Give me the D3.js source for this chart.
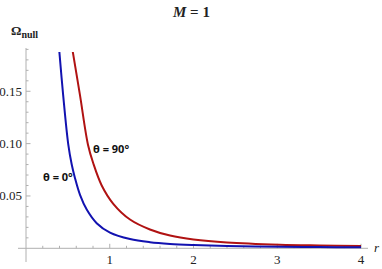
<!DOCTYPE html>
<html><head><meta charset="utf-8">
<script src="https://cdn.jsdelivr.net/npm/d3@7"></script>
<style>body{margin:0;background:#fff}svg{display:block}</style>
</head><body>
<script>
// Data
const rBlue = [0.398,0.444,0.505,0.546,0.585,0.645,0.725,0.844,1.003,1.242,1.48,1.72,2.0,2.4,3.03,3.5,4.0];
const omBlue = [0.188,0.146,0.099,0.080,0.067,0.051,0.037,0.024,0.015,0.0088,0.0058,0.0042,0.0032,0.0023,0.0015,0.0012,0.0010];
const rRed = [0.558,0.645,0.740,0.804,0.904,1.042,1.242,1.48,1.72,2.0,2.4,3.03,3.5,4.0];
const omRed = [0.188,0.146,0.099,0.081,0.060,0.0425,0.0275,0.018,0.0122,0.0084,0.0055,0.0034,0.0027,0.0022];
const xMajor = [1,2,3,4];
const yMajor = [0.05,0.10,0.15];
const yMajorLabels = ["0.05","0.10","0.15"];
const seriesLabels = ["θ = 0°","θ = 90°"];
const title = "M = 1";

const W=382,H=269;
const svg=d3.select("body").append("svg").attr("width",W).attr("height",H);
const x=d3.scaleLinear().domain([0,4]).range([26,361]);
const y=d3.scaleLinear().domain([0,0.19]).range([248.3,49.4]);
const axisCol="#b0b0b0";

// axes lines
svg.append("line").attr("x1",18).attr("x2",368).attr("y1",y(0)).attr("y2",y(0)).attr("stroke",axisCol).attr("stroke-width",1);
svg.append("line").attr("x1",x(0)).attr("x2",x(0)).attr("y1",48).attr("y2",262).attr("stroke",axisCol).attr("stroke-width",1);

// x ticks
const xMinor=d3.range(0.2,4.001,0.2).filter(v=>!xMajor.some(m=>Math.abs(m-v)<1e-6));
svg.selectAll(".xmin").data(xMinor).join("line").attr("x1",d=>x(d)).attr("x2",d=>x(d)).attr("y1",y(0)).attr("y2",y(0)-2.5).attr("stroke",axisCol);
svg.selectAll(".xmaj").data(xMajor).join("line").attr("x1",d=>x(d)).attr("x2",d=>x(d)).attr("y1",y(0)).attr("y2",y(0)-4.5).attr("stroke",axisCol);
svg.selectAll(".xlab").data(xMajor).join("text").attr("x",d=>x(d)).attr("y",264).attr("text-anchor","middle")
  .attr("font-family","Liberation Serif").attr("font-size",13).attr("fill","#222").text(d=>d);

// y ticks
const yMinor=d3.range(0.01,0.1901,0.01).filter(v=>!yMajor.some(m=>Math.abs(m-v)<1e-6));
svg.selectAll(".ymin").data(yMinor).join("line").attr("x1",x(0)).attr("x2",x(0)+2.5).attr("y1",d=>y(d)).attr("y2",d=>y(d)).attr("stroke",axisCol);
svg.selectAll(".ymaj").data(yMajor).join("line").attr("x1",x(0)).attr("x2",x(0)+4.5).attr("y1",d=>y(d)).attr("y2",d=>y(d)).attr("stroke",axisCol);
svg.selectAll(".ylab").data(yMajor).join("text").attr("x",22).attr("y",d=>y(d)+4.5).attr("text-anchor","end")
  .attr("font-family","Liberation Serif").attr("font-size",13).attr("fill","#222").text((d,i)=>yMajorLabels[i]);

// clip
svg.append("clipPath").attr("id","c").append("rect").attr("x",x(0)).attr("y",52).attr("width",x(4)-x(0)+2).attr("height",y(0)-52+2);

const line=d3.line().x(d=>x(d[0])).y(d=>y(d[1])).curve(d3.curveCatmullRom.alpha(0.5));
const g=svg.append("g").attr("clip-path","url(#c)");
g.append("path").datum(rRed.map((r,i)=>[r,omRed[i]])).attr("d",line).attr("fill","none").attr("stroke","#b01212").attr("stroke-width",2);
g.append("path").datum(rBlue.map((r,i)=>[r,omBlue[i]])).attr("d",line).attr("fill","none").attr("stroke","#1212b0").attr("stroke-width",2);

// series labels
const lab=svg.append("g").attr("font-family","Open Sans, sans-serif").attr("font-weight","bold").attr("font-size",11).attr("fill","#111");
lab.append("text").attr("x",43).attr("y",180.5).text(seriesLabels[0]);
lab.append("text").attr("x",93).attr("y",153).text(seriesLabels[1]);

// title
const t=svg.append("text").attr("x",173).attr("y",17).attr("font-family","Liberation Serif").attr("font-weight","bold").attr("font-size",15).attr("fill","#222");
t.append("tspan").attr("font-style","italic").text(title.split(" ")[0]);
t.append("tspan").text(" "+title.split(" ").slice(1).join(" "));

// y label
const yl=svg.append("text").attr("x",11).attr("y",35).attr("font-family","Liberation Serif").attr("font-weight","bold").attr("font-size",13).attr("fill","#222");
yl.append("tspan").text("Ω");
yl.append("tspan").attr("font-size",10).attr("dy",2.5).text("null");

// x label
svg.append("text").attr("x",374).attr("y",251.5).attr("font-family","Liberation Serif").attr("font-style","italic").attr("font-size",13).attr("fill","#222").text("r");
</script>
</body></html>
